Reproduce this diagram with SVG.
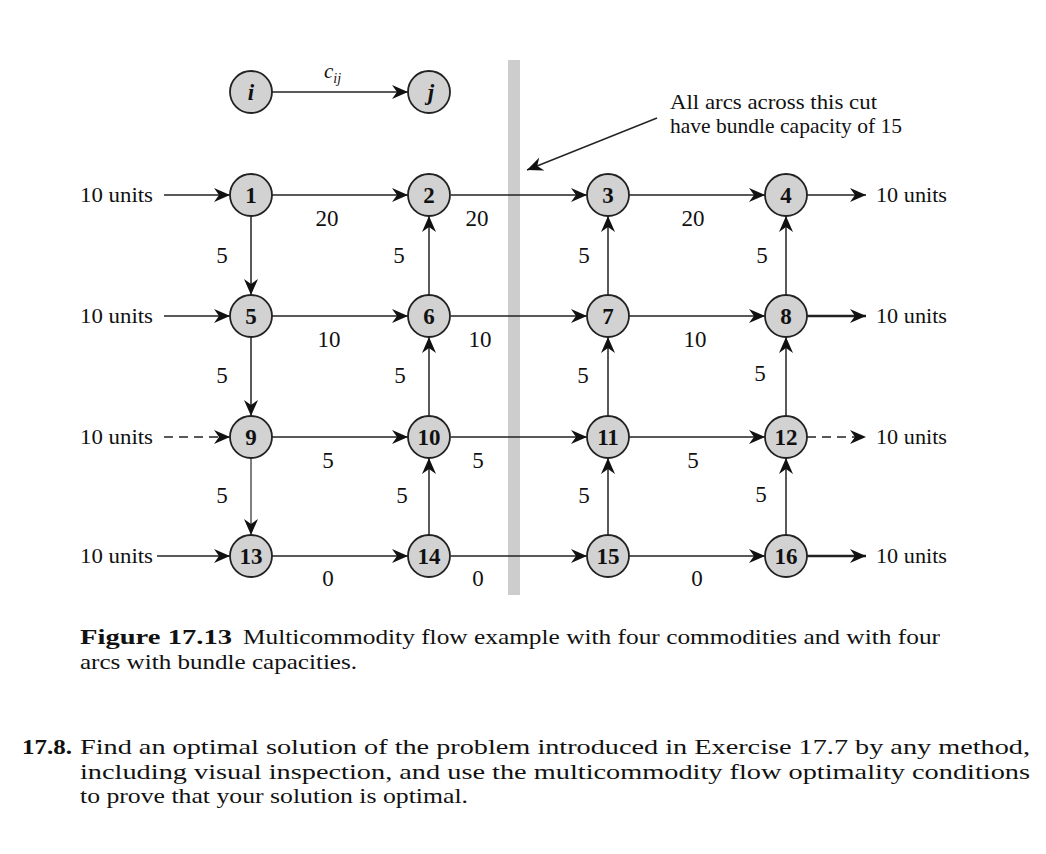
<svg xmlns="http://www.w3.org/2000/svg" width="1046" height="854" viewBox="0 0 1046 854">
<style>
.txt{font-family:"Liberation Serif","Times New Roman",serif;fill:#111}
.lbl{font-family:"Liberation Serif","Times New Roman",serif;font-size:23px;fill:#111;text-anchor:middle}
.nd circle{fill:#d2d2d2;stroke:#222;stroke-width:1.8}
.nd text{font-family:"Liberation Serif","Times New Roman",serif;font-size:23px;fill:#111;text-anchor:middle;font-weight:bold}
.e{stroke:#222;stroke-width:1.5;fill:none;marker-end:url(#ah)}
.g{stroke:#555}
.thick{stroke-width:2.6}
.dash{stroke-dasharray:9 6}
</style>
<defs>
<marker id="ah" markerUnits="userSpaceOnUse" markerWidth="18" markerHeight="14" refX="16" refY="7" orient="auto">
<path d="M0,0 L16,7 L0,14 L5,7 Z" fill="#111"/>
</marker>
</defs>
<rect width="1046" height="854" fill="#fff"/>

<!-- cut band -->
<rect x="508" y="60" width="12" height="535" fill="#cdcdcd"/>

<!-- legend -->
<g id="legend">
<line class="e" x1="272" y1="92" x2="408" y2="92"/>
<text class="txt" x="324" y="78" font-size="21" font-style="italic">c<tspan font-size="14" dy="5">ij</tspan></text>
</g>
<g id="node-i" class="nd"><circle cx="251" cy="92" r="21"/><text x="251" y="100" font-style="italic">i</text></g>
<g id="node-j" class="nd"><circle cx="429" cy="92" r="21"/><text x="431" y="100" font-style="italic">j</text></g>

<!-- annotation -->
<g id="annotation">
<text class="txt" x="670" y="109" font-size="22" textLength="207" lengthAdjust="spacingAndGlyphs">All arcs across this cut</text>
<text class="txt" x="670" y="133" font-size="22" textLength="232" lengthAdjust="spacingAndGlyphs">have bundle capacity of 15</text>
<line class="e" x1="657" y1="118" x2="527" y2="170" stroke-width="1.8"/>
</g>

<g id="connectors">
<line class="e" x1="272" y1="195" x2="408" y2="195"/>
<line class="e" x1="451" y1="195" x2="587" y2="195"/>
<line class="e" x1="629" y1="195" x2="765" y2="195"/>
<line class="e" x1="272" y1="316" x2="408" y2="316"/>
<line class="e" x1="451" y1="316" x2="587" y2="316"/>
<line class="e" x1="629" y1="316" x2="765" y2="316"/>
<line class="e" x1="272" y1="437" x2="408" y2="437"/>
<line class="e" x1="451" y1="437" x2="587" y2="437"/>
<line class="e" x1="629" y1="437" x2="765" y2="437"/>
<line class="e" x1="272" y1="556" x2="408" y2="556"/>
<line class="e" x1="451" y1="556" x2="587" y2="556"/>
<line class="e" x1="629" y1="556" x2="765" y2="556"/>
<line class="e" x1="251" y1="216" x2="251" y2="295"/>
<line class="e" x1="251" y1="337" x2="251" y2="416"/>
<line class="e g" x1="251" y1="458" x2="251" y2="535"/>
<line class="e" x1="429" y1="295" x2="429" y2="216"/>
<line class="e" x1="429" y1="416" x2="429" y2="337"/>
<line class="e" x1="429" y1="535" x2="429" y2="458"/>
<line class="e" x1="608" y1="295" x2="608" y2="216"/>
<line class="e" x1="608" y1="416" x2="608" y2="337"/>
<line class="e" x1="608" y1="535" x2="608" y2="458"/>
<line class="e" x1="786" y1="295" x2="786" y2="216"/>
<line class="e" x1="786" y1="416" x2="786" y2="337"/>
<line class="e" x1="786" y1="535" x2="786" y2="458"/>
<line class="e" x1="164" y1="195" x2="230" y2="195"/>
<line class="e" x1="164" y1="316" x2="230" y2="316"/>
<line class="e dash" x1="164" y1="437" x2="230" y2="437"/>
<line class="e" x1="157" y1="556" x2="230" y2="556" stroke-width="2"/>
<line class="e" x1="807" y1="195" x2="866" y2="195"/>
<line class="e thick" x1="807" y1="316" x2="866" y2="316"/>
<line class="e dash" x1="807" y1="437" x2="866" y2="437"/>
<line class="e thick" x1="807" y1="556" x2="866" y2="556"/>
</g>

<g id="io-labels" class="txt" font-size="22">
<text x="80" y="202" textLength="73" lengthAdjust="spacingAndGlyphs">10 units</text>
<text x="80" y="323" textLength="73" lengthAdjust="spacingAndGlyphs">10 units</text>
<text x="80" y="444" textLength="73" lengthAdjust="spacingAndGlyphs">10 units</text>
<text x="80" y="563" textLength="73" lengthAdjust="spacingAndGlyphs">10 units</text>
<text x="876" y="202" textLength="71" lengthAdjust="spacingAndGlyphs">10 units</text>
<text x="876" y="323" textLength="71" lengthAdjust="spacingAndGlyphs">10 units</text>
<text x="876" y="444" textLength="71" lengthAdjust="spacingAndGlyphs">10 units</text>
<text x="876" y="563" textLength="71" lengthAdjust="spacingAndGlyphs">10 units</text>
</g>

<g id="arc-labels">
<text class="lbl" x="327" y="226">20</text>
<text class="lbl" x="477" y="226">20</text>
<text class="lbl" x="693" y="226">20</text>
<text class="lbl" x="329" y="347">10</text>
<text class="lbl" x="480" y="347">10</text>
<text class="lbl" x="695" y="347">10</text>
<text class="lbl" x="328" y="468">5</text>
<text class="lbl" x="478" y="468">5</text>
<text class="lbl" x="693" y="468">5</text>
<text class="lbl" x="328" y="586">0</text>
<text class="lbl" x="478" y="586">0</text>
<text class="lbl" x="697" y="586">0</text>
<text class="lbl" x="222" y="263">5</text>
<text class="lbl" x="222" y="383">5</text>
<text class="lbl" x="222" y="503">5</text>
<text class="lbl" x="399" y="263">5</text>
<text class="lbl" x="400" y="383">5</text>
<text class="lbl" x="402" y="503">5</text>
<text class="lbl" x="584" y="263">5</text>
<text class="lbl" x="583" y="383">5</text>
<text class="lbl" x="584" y="503">5</text>
<text class="lbl" x="762" y="263">5</text>
<text class="lbl" x="760" y="381">5</text>
<text class="lbl" x="761" y="502">5</text>
</g>

<g id="node-1" class="nd"><circle cx="251" cy="195" r="21"/><text x="251" y="203">1</text></g>
<g id="node-2" class="nd"><circle cx="429" cy="195" r="21"/><text x="429" y="203">2</text></g>
<g id="node-3" class="nd"><circle cx="608" cy="195" r="21"/><text x="608" y="203">3</text></g>
<g id="node-4" class="nd"><circle cx="786" cy="195" r="21"/><text x="786" y="203">4</text></g>
<g id="node-5" class="nd"><circle cx="251" cy="316" r="21"/><text x="251" y="324">5</text></g>
<g id="node-6" class="nd"><circle cx="429" cy="316" r="21"/><text x="429" y="324">6</text></g>
<g id="node-7" class="nd"><circle cx="608" cy="316" r="21"/><text x="608" y="324">7</text></g>
<g id="node-8" class="nd"><circle cx="786" cy="316" r="21"/><text x="786" y="324">8</text></g>
<g id="node-9" class="nd"><circle cx="251" cy="437" r="21"/><text x="251" y="445">9</text></g>
<g id="node-10" class="nd"><circle cx="429" cy="437" r="21"/><text x="429" y="445">10</text></g>
<g id="node-11" class="nd"><circle cx="608" cy="437" r="21"/><text x="608" y="445">11</text></g>
<g id="node-12" class="nd"><circle cx="786" cy="437" r="21"/><text x="786" y="445">12</text></g>
<g id="node-13" class="nd"><circle cx="251" cy="556" r="21"/><text x="251" y="564">13</text></g>
<g id="node-14" class="nd"><circle cx="429" cy="556" r="21"/><text x="429" y="564">14</text></g>
<g id="node-15" class="nd"><circle cx="608" cy="556" r="21"/><text x="608" y="564">15</text></g>
<g id="node-16" class="nd"><circle cx="786" cy="556" r="21"/><text x="786" y="564">16</text></g>

<g id="caption" class="txt" font-size="22">
<text x="80" y="644" font-weight="bold" textLength="152" lengthAdjust="spacingAndGlyphs">Figure 17.13</text>
<text x="243" y="644" textLength="697" lengthAdjust="spacingAndGlyphs">Multicommodity flow example with four commodities and with four</text>
<text x="80" y="669" textLength="277" lengthAdjust="spacingAndGlyphs">arcs with bundle capacities.</text>
</g>

<g id="exercise" class="txt" font-size="22">
<text x="22" y="754" font-weight="bold" textLength="50" lengthAdjust="spacingAndGlyphs">17.8.</text>
<text x="80" y="754" textLength="950" lengthAdjust="spacingAndGlyphs">Find an optimal solution of the problem introduced in Exercise 17.7 by any method,</text>
<text x="80" y="779" textLength="950" lengthAdjust="spacingAndGlyphs">including visual inspection, and use the multicommodity flow optimality conditions</text>
<text x="80" y="803" textLength="388" lengthAdjust="spacingAndGlyphs">to prove that your solution is optimal.</text>
</g>
</svg>
